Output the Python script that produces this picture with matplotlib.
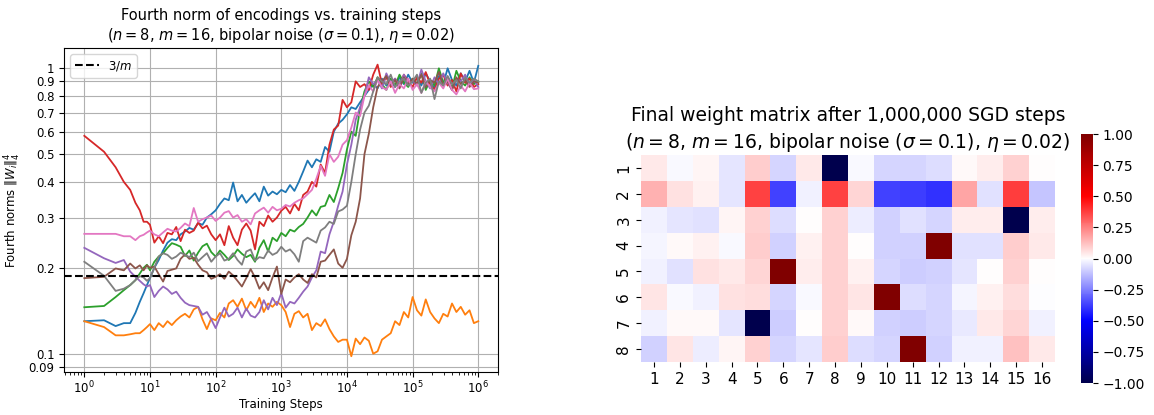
import numpy as np
import matplotlib
matplotlib.use("Agg")
import matplotlib.pyplot as plt
import seaborn as sns

# ---------------- data ----------------
# sampling grid: steps 1..9, then 15 points per decade from 10 to 1e6
steps = np.concatenate([np.arange(1, 10), np.logspace(1, 6, 76)])

blue = [
    0.130, 0.131, 0.125, 0.128, 0.128, 0.139, 0.152, 0.163, 0.174,
    0.184, 0.200, 0.213, 0.230, 0.245, 0.252, 0.250, 0.262, 0.268, 0.276, 0.272, 0.287, 0.283, 0.300, 0.308,
    0.318, 0.335, 0.350, 0.345, 0.398, 0.342, 0.360, 0.338, 0.352, 0.365, 0.342, 0.385, 0.358, 0.370, 0.362,
    0.375, 0.368, 0.390, 0.372, 0.400, 0.435, 0.475, 0.450, 0.480, 0.470, 0.530, 0.510, 0.600, 0.640, 0.660,
    0.690, 0.730, 0.720, 0.760, 0.800, 0.840, 0.880, 0.850, 0.920, 0.870, 0.900, 0.860, 0.930, 0.880, 0.950,
    0.890, 0.920, 0.870, 0.960, 0.900, 0.850, 0.940, 0.880, 1.000, 0.910, 0.870, 0.960, 0.900, 0.980, 0.890,
    1.020]

orange = [
    0.130, 0.124, 0.116, 0.116, 0.117, 0.118, 0.118, 0.121, 0.124,
    0.127, 0.121, 0.128, 0.124, 0.130, 0.126, 0.131, 0.135, 0.138, 0.134, 0.143, 0.146, 0.132, 0.122, 0.133,
    0.131, 0.139, 0.134, 0.150, 0.154, 0.146, 0.156, 0.142, 0.152, 0.145, 0.157, 0.140, 0.150, 0.146, 0.152,
    0.148, 0.140, 0.124, 0.138, 0.141, 0.134, 0.138, 0.121, 0.128, 0.125, 0.132, 0.122, 0.115, 0.110, 0.112,
    0.112, 0.098, 0.113, 0.108, 0.114, 0.111, 0.100, 0.102, 0.112, 0.115, 0.118, 0.130, 0.126, 0.140, 0.134,
    0.158, 0.142, 0.136, 0.155, 0.140, 0.133, 0.128, 0.138, 0.135, 0.150, 0.140, 0.146, 0.137, 0.142, 0.128,
    0.130]

green = [
    0.1455, 0.147, 0.158, 0.167, 0.174, 0.181, 0.191, 0.200, 0.205,
    0.196, 0.210, 0.219, 0.225, 0.235, 0.244, 0.241, 0.237, 0.220, 0.230, 0.212, 0.226, 0.238, 0.243, 0.227,
    0.219, 0.230, 0.222, 0.213, 0.220, 0.232, 0.224, 0.218, 0.222, 0.210, 0.235, 0.250, 0.228, 0.255, 0.248,
    0.265, 0.258, 0.272, 0.268, 0.278, 0.285, 0.300, 0.318, 0.305, 0.327, 0.330, 0.360, 0.340, 0.380, 0.430,
    0.520, 0.600, 0.580, 0.720, 0.830, 0.900, 0.860, 0.930, 0.880, 0.840, 0.920, 0.870, 0.950, 0.890, 0.860,
    0.920, 0.880, 0.960, 0.840, 0.910, 0.870, 1.000, 0.890, 0.930, 0.850, 0.980, 0.900, 0.870, 0.930, 0.880,
    0.900]

red = [
    0.580, 0.510, 0.450, 0.400, 0.375, 0.338, 0.318, 0.290, 0.290,
    0.283, 0.245, 0.258, 0.244, 0.265, 0.262, 0.278, 0.248, 0.272, 0.265, 0.270, 0.288, 0.275, 0.281, 0.262,
    0.250, 0.262, 0.240, 0.280, 0.255, 0.240, 0.272, 0.286, 0.270, 0.232, 0.290, 0.280, 0.305, 0.290, 0.300,
    0.317, 0.327, 0.310, 0.335, 0.318, 0.360, 0.370, 0.400, 0.385, 0.460, 0.430, 0.540, 0.610, 0.630, 0.775,
    0.730, 0.760, 0.900, 0.860, 0.880, 0.840, 0.950, 1.030, 0.880, 0.930, 0.860, 0.920, 0.870, 0.950, 0.900,
    0.860, 0.930, 0.890, 0.970, 0.880, 0.840, 0.920, 0.950, 0.870, 0.910, 0.830, 0.960, 0.890, 0.920, 0.860,
    0.880]

purple = [
    0.235, 0.216, 0.208, 0.213, 0.194, 0.186, 0.180, 0.175, 0.172,
    0.174, 0.158, 0.166, 0.172, 0.168, 0.162, 0.165, 0.157, 0.151, 0.148, 0.147, 0.146, 0.137, 0.140, 0.132,
    0.123, 0.134, 0.145, 0.135, 0.138, 0.145, 0.134, 0.144, 0.136, 0.134, 0.140, 0.154, 0.143, 0.157, 0.148,
    0.163, 0.145, 0.152, 0.150, 0.157, 0.165, 0.172, 0.185, 0.196, 0.228, 0.225, 0.262, 0.290, 0.330, 0.370,
    0.460, 0.540, 0.660, 0.730, 0.800, 0.930, 0.880, 0.910, 0.850, 0.960, 0.890, 0.920, 0.860, 0.950, 0.880,
    0.910, 0.870, 0.990, 0.900, 0.850, 0.930, 0.880, 0.960, 0.890, 0.840, 0.920, 0.900, 0.950, 0.870, 0.910,
    0.860]

brown = [
    0.184, 0.186, 0.199, 0.196, 0.207, 0.199, 0.204, 0.196, 0.204,
    0.200, 0.202, 0.190, 0.179, 0.195, 0.197, 0.199, 0.215, 0.223, 0.215, 0.217, 0.205, 0.196, 0.193, 0.183,
    0.186, 0.190, 0.183, 0.194, 0.188, 0.180, 0.172, 0.184, 0.198, 0.185, 0.169, 0.178, 0.167, 0.185, 0.202,
    0.162, 0.182, 0.178, 0.185, 0.190, 0.182, 0.177, 0.190, 0.185, 0.210, 0.212, 0.222, 0.232, 0.207, 0.200,
    0.215, 0.260, 0.290, 0.350, 0.500, 0.590, 0.730, 0.860, 0.900, 0.940, 0.870, 0.910, 0.850, 0.930, 0.880,
    0.920, 0.880, 0.950, 0.860, 0.910, 0.890, 0.970, 0.870, 0.900, 0.840, 0.930, 0.880, 0.910, 0.860, 0.900,
    0.890]

pink = [
    0.263, 0.263, 0.263, 0.258, 0.258, 0.250, 0.258, 0.261, 0.266,
    0.270, 0.262, 0.258, 0.266, 0.274, 0.270, 0.268, 0.276, 0.286, 0.280, 0.324, 0.290, 0.296, 0.300, 0.305,
    0.292, 0.300, 0.312, 0.316, 0.300, 0.306, 0.290, 0.296, 0.284, 0.310, 0.318, 0.325, 0.312, 0.327, 0.318,
    0.322, 0.332, 0.328, 0.338, 0.345, 0.350, 0.362, 0.375, 0.410, 0.455, 0.420, 0.500, 0.470, 0.490, 0.540,
    0.560, 0.620, 0.700, 0.680, 0.800, 0.870, 0.830, 0.910, 0.860, 0.840, 0.900, 0.820, 0.880, 0.850, 0.920,
    0.840, 0.880, 0.820, 0.900, 0.860, 0.830, 0.890, 0.850, 0.920, 0.840, 0.810, 0.870, 0.830, 0.890, 0.845,
    0.850]

gray = [
    0.210, 0.1875, 0.166, 0.169, 0.174, 0.181, 0.187, 0.185, 0.180,
    0.184, 0.200, 0.219, 0.225, 0.222, 0.215, 0.219, 0.226, 0.222, 0.218, 0.226, 0.211, 0.218, 0.225, 0.210,
    0.219, 0.225, 0.212, 0.215, 0.225, 0.213, 0.205, 0.228, 0.232, 0.212, 0.218, 0.216, 0.230, 0.222, 0.226,
    0.237, 0.228, 0.232, 0.223, 0.210, 0.248, 0.255, 0.250, 0.245, 0.270, 0.277, 0.290, 0.285, 0.315, 0.320,
    0.330, 0.400, 0.500, 0.610, 0.700, 0.740, 0.830, 0.930, 0.900, 0.880, 0.950, 0.860, 0.900, 0.920, 0.870,
    0.900, 0.950, 0.820, 0.890, 0.920, 0.780, 0.900, 0.870, 0.940, 0.880, 0.910, 0.850, 0.930, 0.890, 0.920,
    0.900]

series = [blue, orange, green, red, purple, brown, pink, gray]
series_colors = ["#1f77b4", "#ff7f0e", "#2ca02c", "#d62728",
                 "#9467bd", "#8c564b", "#e377c2", "#7f7f7f"]

threshold = 3 / 16  # 3/m

ytick_vals = [0.09, 0.1, 0.2, 0.3, 0.4, 0.5, 0.6, 0.7, 0.8, 0.9, 1.0]
ytick_labels = ["0.09", "0.1", "0.2", "0.3", "0.4", "0.5", "0.6", "0.7", "0.8", "0.9", "1"]

# final weight matrix (8 rows x 16 cols)
W = np.array([
    [0.04, -0.01, 0.02, -0.05, 0.10, -0.08, 0.04, -1.00, -0.015, -0.08, -0.08, -0.07, 0.015, 0.035, 0.09, 0.00],
    [0.15, 0.06, 0.03, -0.05, 0.37, -0.37, -0.03, 0.37, 0.08, -0.375, -0.38, -0.40, 0.175, -0.06, 0.375, -0.11],
    [-0.03, -0.05, -0.06, 0.02, 0.09, -0.07, 0.00, 0.09, -0.035, -0.09, -0.06, -0.08, 0.035, 0.035, -1.00, 0.035],
    [-0.02, 0.01, 0.03, -0.01, 0.10, -0.09, 0.03, 0.09, 0.00, -0.09, -0.09, 1.00, -0.06, -0.06, 0.10, 0.045],
    [-0.03, -0.055, 0.06, 0.045, 0.08, 1.00, 0.035, 0.09, 0.025, -0.08, -0.10, -0.09, -0.05, 0.00, 0.09, 0.00],
    [0.05, -0.01, -0.03, 0.055, 0.065, -0.085, -0.015, 0.09, 0.05, 1.00, -0.07, -0.08, -0.02, 0.03, 0.07, -0.005],
    [-0.03, 0.01, 0.01, -0.05, -1.00, -0.10, 0.00, 0.09, 0.015, -0.09, -0.10, -0.08, -0.04, 0.04, 0.08, -0.03],
    [-0.09, 0.05, -0.035, 0.02, 0.09, -0.08, -0.05, 0.10, -0.065, -0.085, 1.00, -0.09, -0.03, -0.025, 0.12, 0.045],
])
col_labels = [str(i) for i in range(1, 17)]
row_labels = [str(i) for i in range(1, 9)]

# ---------------- figure ----------------
fig = plt.figure(figsize=(11.54, 4.15), dpi=100)

ax1 = fig.add_axes([0.0557, 0.1043, 0.3761, 0.7793])
for vals, col in zip(series, series_colors):
    ax1.plot(steps, vals, color=col, lw=1.3)
ax1.axhline(threshold, color="black", ls="--", lw=1.5, label="$3/m$")
ax1.set_xscale("log")
ax1.set_yscale("log")
ax1.set_xlim(10 ** -0.305, 10 ** 6.305)
ax1.set_ylim(0.0865, 1.175)
ax1.yaxis.set_minor_locator(matplotlib.ticker.NullLocator())
ax1.set_yticks(ytick_vals)
ax1.set_yticklabels(ytick_labels)
ax1.tick_params(axis="both", labelsize=8.5)
ax1.tick_params(axis="x", pad=2.5)
ax1.grid(True, which="major", color="#b0b0b0", lw=0.8)
ax1.set_xlabel("Training Steps", fontsize=8.5, labelpad=1)
ax1.set_ylabel(r"Fourth norms $\|W_i\|_4^4$", fontsize=8.5)
ax1.set_title("Fourth norm of encodings vs. training steps\n"
              r"($n = 8$, $m = 16$, bipolar noise ($\sigma = 0.1$), $\eta = 0.02$)",
              fontsize=10.5)
ax1.legend(loc="upper left", fontsize=8.5)

ax2 = fig.add_axes([0.5555, 0.0771, 0.3587, 0.6])
cax = fig.add_axes([0.9365, 0.0771, 0.0104, 0.6])
sns.heatmap(W, ax=ax2, cbar_ax=cax, cmap="seismic", vmin=-1, vmax=1,
            square=True, xticklabels=col_labels, yticklabels=row_labels)
ax2.set_xticklabels(col_labels, fontsize=11, rotation=0)
ax2.set_yticklabels(row_labels, fontsize=11, rotation=90, va="center")
ax2.set_title("Final weight matrix after 1,000,000 SGD steps\n"
              r"($n = 8$, $m = 16$, bipolar noise ($\sigma = 0.1$), $\eta = 0.02$)",
              fontsize=13.5, linespacing=1.35, pad=5)
cax.tick_params(labelsize=10)

fig.savefig("out.png", dpi=100)
